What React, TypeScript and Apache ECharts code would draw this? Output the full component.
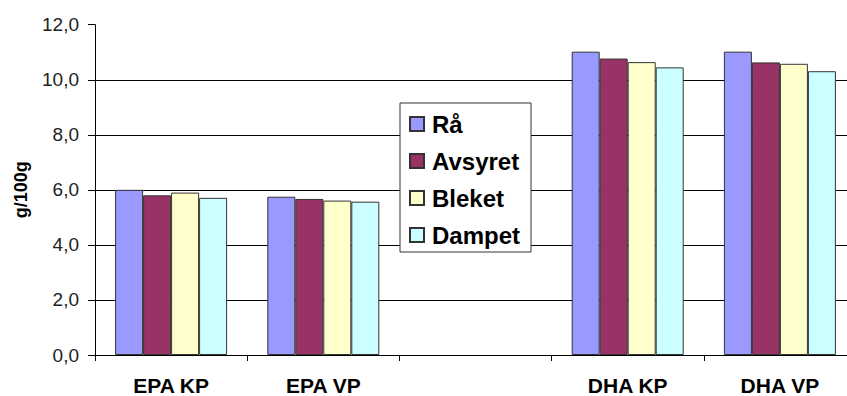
import React, { useEffect, useRef } from "react";
import * as echarts from "echarts";

const categories = ["EPA KP", "EPA VP", "", "DHA KP", "DHA VP"];
const seriesNames = ["Rå", "Avsyret", "Bleket", "Dampet"];
const raa = [6.0, 5.75, null, 11.02, 11.02];
const avsyret = [5.8, 5.67, null, 10.77, 10.63];
const bleket = [5.9, 5.61, null, 10.64, 10.58];
const dampet = [5.71, 5.57, null, 10.45, 10.31];
const colors = ["#9999FF", "#993366", "#FFFFCC", "#CCFFFF"];

export default function App() {
  const ref = useRef<HTMLDivElement>(null);
  useEffect(() => {
    document.body.style.margin = "0";
    const chart = echarts.init(ref.current!, undefined, { renderer: "svg" });
    const values = [raa, avsyret, bleket, dampet];
    chart.setOption({
      animation: false,
      backgroundColor: "#ffffff",
      grid: { left: 95, top: 24.7, width: 761, height: 333 },
      legend: {
        orient: "vertical",
        left: 400,
        top: 103,
        data: seriesNames,
        icon: "rect",
        itemWidth: 14,
        itemHeight: 14,
        itemGap: 13,
        padding: [9, 11, 5, 9],
        borderColor: "#333",
        borderWidth: 1,
        backgroundColor: "#fff",
        textStyle: {
          fontFamily: "Liberation Sans, Arial, sans-serif",
          fontWeight: "bold",
          fontSize: 24,
          lineHeight: 24,
          color: "#000",
          padding: [0, 0, 0, 3],
        },
      },
      xAxis: {
        type: "category",
        data: categories,
        boundaryGap: true,
        axisLine: { lineStyle: { color: "#000", width: 1 } },
        axisTick: { show: true, interval: 0, length: 6, lineStyle: { color: "#000" } },
        axisLabel: {
          interval: 0,
          margin: 20,
          fontFamily: "Liberation Sans, Arial, sans-serif",
          fontWeight: "bold",
          fontSize: 21,
          color: "#000",
        },
      },
      yAxis: {
        type: "value",
        min: 0,
        max: 12,
        interval: 2,
        name: "g/100g",
        nameLocation: "middle",
        nameRotate: 90,
        nameGap: 65,
        nameTextStyle: {
          fontFamily: "Liberation Sans, Arial, sans-serif",
          fontWeight: "bold",
          fontSize: 18,
          color: "#000",
        },
        axisLine: { show: true, lineStyle: { color: "#000", width: 1 } },
        axisTick: { show: true, length: 7, lineStyle: { color: "#000" } },
        splitLine: {
          show: true,
          showMaxLine: false,
          lineStyle: { color: "#000", width: 1 },
        },
        axisLabel: {
          margin: 16,
          fontFamily: "Liberation Sans, Arial, sans-serif",
          fontSize: 19,
          color: "#222",
          formatter: (v: number) => v.toFixed(1).replace(".", ","),
        },
      },
      series: seriesNames.map((name, i) => ({
        name,
        type: "bar",
        data: values[i],
        barWidth: 28,
        barGap: "0%",
        itemStyle: { color: colors[i], borderColor: "#333", borderWidth: 1 },
      })),
    });
    return () => chart.dispose();
  }, []);
  return (
    <div style={{ width: 847, height: 396, overflow: "hidden" }}>
      <div ref={ref} style={{ width: 880, height: 396 }} />
    </div>
  );
}
